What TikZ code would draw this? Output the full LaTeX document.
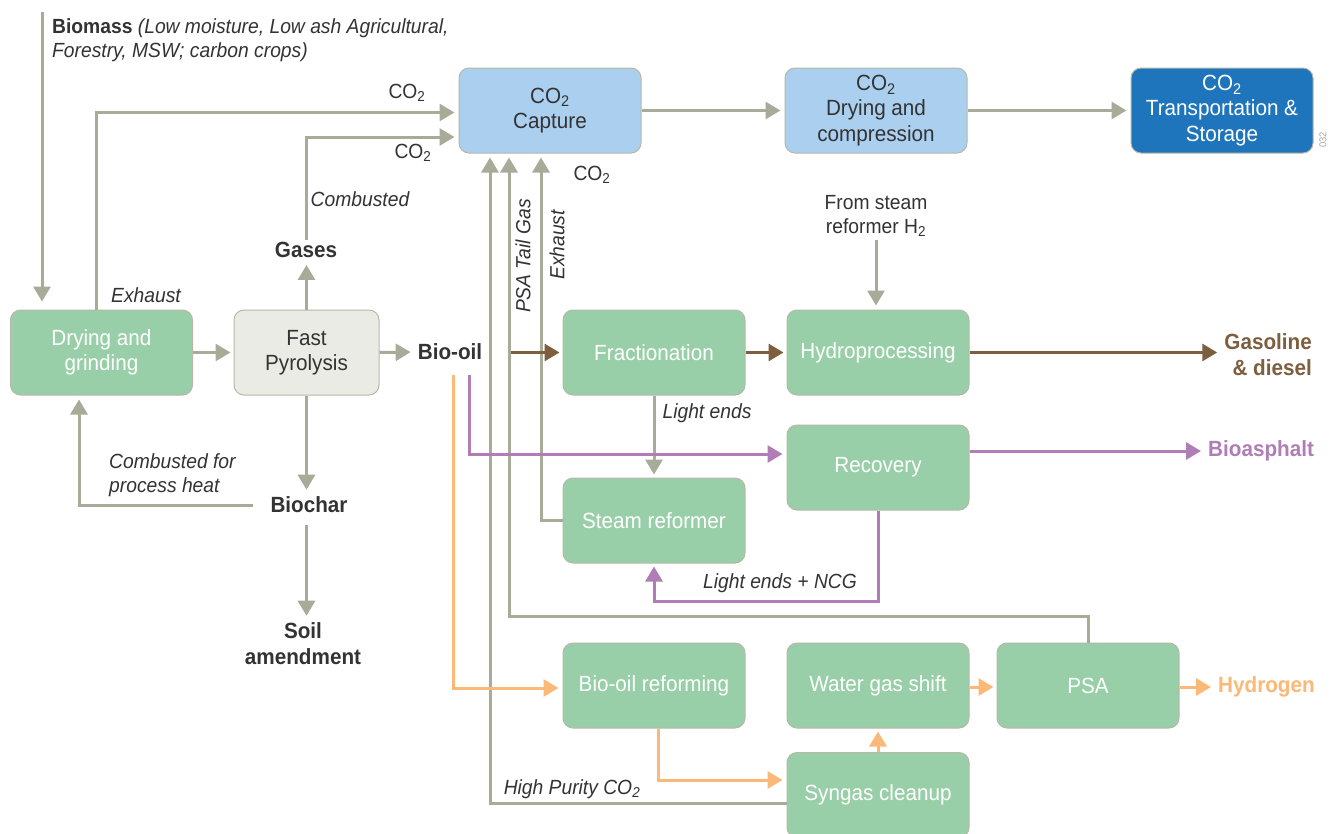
\documentclass[tikz,border=0pt]{standalone}
\usepackage{fontspec}
\setmainfont[FakeStretch=0.94]{Liberation Sans}
\usetikzlibrary{arrows.meta,calc}

\definecolor{boxgreen}{HTML}{99CFA8}
\definecolor{boxline}{HTML}{B7B8A8}
\definecolor{flowgrey}{HTML}{A9AB99}
\definecolor{lightblue}{HTML}{ABCFEF}
\definecolor{darkblue}{HTML}{1E75BB}
\definecolor{pyrofill}{HTML}{EBEBE6}
\definecolor{brownflow}{HTML}{7D5E3F}
\definecolor{purpleflow}{HTML}{B07DB6}
\definecolor{orangeflow}{HTML}{FBB877}
\definecolor{textdark}{HTML}{333333}

\newcommand\boxfont{\fontsize{22}{25.5}\selectfont}
\newcommand\lblfont{\fontsize{20.5}{24}\selectfont}
\newcommand\blblfont{\fontsize{22}{26}\selectfont}

\begin{document}
\begin{tikzpicture}[x=1pt,y=-1pt,
  procbox/.style={draw=boxline, line width=1pt, rounded corners=10pt,
    minimum width=182pt, minimum height=85pt, inner sep=2pt, align=center,
    font=\boxfont, text=white, fill=boxgreen},
  lbl/.style={font=\lblfont\itshape, text=textdark, inner sep=3pt, align=left},
  blbl/.style={font=\blblfont\bfseries, text=textdark, inner sep=3pt, align=center},
  flow/.style={draw=flowgrey, line width=3pt, -{Triangle[length=15pt,width=17pt]}, shorten >=4pt},
  brownarrow/.style={flow, draw=brownflow},
  purplearrow/.style={flow, draw=purpleflow},
  orangearrow/.style={flow, draw=orangeflow}]

\path[use as bounding box, clip] (0,0) rectangle (1333,833);
\fill[white] (0,0) rectangle (1333,833);

% process boxes
\node[procbox] (dry) at (101.5,352.5) {Drying and\\grinding};
\node[procbox, fill=pyrofill, text=textdark, minimum width=145pt] (pyro) at (306.5,352.5) {Fast\\Pyrolysis};
\node[procbox, fill=lightblue, text=textdark] (cap) at (550,110.5) {CO\textsubscript{2}\\Capture};
\node[procbox, fill=lightblue, text=textdark] (dcomp) at (876,110.5) {CO\textsubscript{2}\\Drying and\\compression};
\node[procbox, fill=darkblue] (trans) at (1222,110.5) {CO\textsubscript{2}\\Transportation \&\\Storage};
\node[procbox] (fract) at (654,352.5) {Fractionation};
\node[procbox] (hydro) at (878,352.5) {Hydroprocessing};
\node[procbox] (recov) at (878,467.5) {Recovery};
\node[procbox] (steam) at (654,520.5) {Steam reformer};
\node[procbox] (bioref) at (654,685.5) {Bio-oil reforming};
\node[procbox] (wgs) at (878,685.5) {Water gas shift};
\node[procbox] (psa) at (1088,685.5) {PSA};
\node[procbox] (syn) at (878,795) {Syngas cleanup};

% stream labels
\node[lbl, anchor=west] (biomass) at (49,40)
  {{\upshape\bfseries Biomass} (Low moisture, Low ash Agricultural,\\Forestry, MSW; carbon crops)};
\node[blbl] (gases) at (306,250) {Gases};
\node[blbl] (biooil) at (450,352) {Bio-oil};
\node[blbl] (biochar) at (309,505) {Biochar};
\node[blbl] (soil) at (303,644) {Soil\\amendment};
\node[blbl, text=brownflow, anchor=east, align=right] (gasoline) at (1315,355) {Gasoline\\\& diesel};
\node[blbl, text=purpleflow, anchor=west] (bioasphalt) at (1205,451) {Bioasphalt};
\node[blbl, text=orangeflow, anchor=west] (hydrogen) at (1215,687) {Hydrogen};
\node[lbl, font=\lblfont, align=center] (h2src) at (876,216) {From steam\\reformer H\textsubscript{2}};

\node[lbl, font=\lblfont] (co2a) at (407,93) {CO\textsubscript{2}};
\node[lbl, font=\lblfont] (co2b) at (413,153) {CO\textsubscript{2}};
\node[lbl, font=\lblfont] (co2c) at (592,175) {CO\textsubscript{2}};
\node[lbl] (exh1) at (146,295) {Exhaust};
\node[lbl] (comb) at (360,199) {Combusted};
\node[lbl, anchor=west] (combheat) at (106,475) {Combusted for\\process heat};
\node[lbl, rotate=90] (tailgas) at (523,256) {PSA Tail Gas};
\node[lbl, rotate=90] (exh2) at (557,245) {Exhaust};
\node[lbl] (lightends) at (707,413) {Light ends};
\node[lbl] (ncg) at (780,583) {Light ends + NCG};
\node[lbl] (hpco2) at (572,789) {High Purity CO\textsubscript{2}};
\node[font=\fontsize{10}{10}\selectfont, text=flowgrey, rotate=90] (tag) at (1323,140) {032};

% grey streams
\coordinate (bmtop) at (42,12);
\draw[flow, shorten >=8pt] (bmtop) -- (bmtop |- dry.north);
\draw[flow] ([xshift=-5.5pt]dry.north) |- ([yshift=-2pt]cap.west);
\draw[flow] (pyro.north) -- (pyro.north |- gases.south);
\draw[flow] ([yshift=-1pt]gases.north) |- ([yshift=-26.5pt]cap.west);
\draw[flow, shorten >=3pt] (dry) -- (pyro);
\draw[flow] (pyro.east) -- (biooil.west);
\draw[flow] (pyro.south) -- (pyro.south |- biochar.north);
\draw[flow] ([yshift=-9pt]pyro.south |- biochar.south) -- (pyro.south |- soil.north);
\draw[flow] ([xshift=-14pt]biochar.west) -| ([xshift=-22.5pt]dry.south);
\draw[flow] ([yshift=-8pt]syn.west) -| ([xshift=-60pt]cap.south);
\draw[flow] (psa.north) -- ++(0,-26) -| ([xshift=-41pt]cap.south);
\draw[flow] (steam.west) -| ([xshift=-9pt]cap.south);
\draw[flow] (cap) -- (dcomp);
\draw[flow] (dcomp) -- (trans);
\draw[flow] (h2src.south) -- (h2src.south |- hydro.north);
\draw[flow, shorten >=3pt] (fract.south) -- (steam.north);

% fuel route
\draw[brownarrow, shorten >=3pt] ([xshift=-52pt]fract.west) -- (fract.west);
\draw[brownarrow, shorten >=3pt] (fract) -- (hydro);
\draw[brownarrow] (hydro.east) -- (hydro.east -| gasoline.west);

% bioasphalt route
\coordinate (bopurple) at (469,375);
\draw[purplearrow] (bopurple) |- ([yshift=13.5pt]recov.west);
\draw[purplearrow] ([yshift=16.5pt]recov.east) -- ([yshift=16.5pt]recov.east -| bioasphalt.west);
\draw[purplearrow, shorten >=3pt] (recov.south) -- ++(0,91) -| (steam.south);

% hydrogen route
\coordinate (boorange) at (453,375);
\draw[orangearrow] (boorange) |- ([yshift=-2.5pt]bioref.west);
\draw[orangearrow] ([xshift=4pt]bioref.south) |- ([yshift=15pt]syn.west);
\draw[orangearrow, shorten >=3pt] (syn.north) -- (wgs.south);
\draw[orangearrow, shorten >=3pt] ([yshift=-1.5pt]wgs.east) -- ([yshift=-1.5pt]psa.west);
\draw[orangearrow] ([yshift=-1.5pt]psa.east) -- ([yshift=-1.5pt]psa.east -| hydrogen.west);
\end{tikzpicture}
\end{document}
